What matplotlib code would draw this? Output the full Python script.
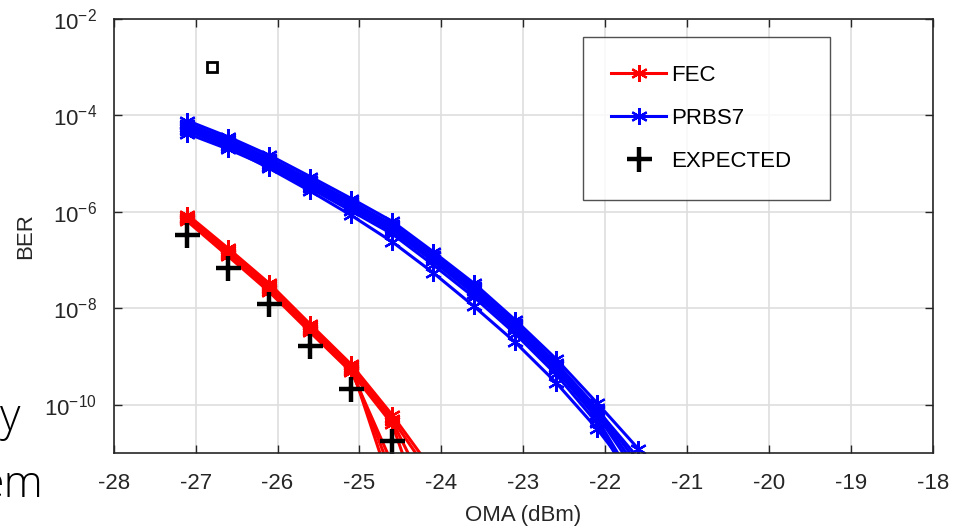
import matplotlib
matplotlib.use("Agg")
import matplotlib.pyplot as plt
from matplotlib.ticker import NullLocator, FixedLocator

plt.rcParams['font.family'] = ['Liberation Sans', 'DejaVu Sans']
plt.rcParams['mathtext.default'] = 'regular'
plt.rcParams['axes.unicode_minus'] = False

# measurement points (dBm)
oma_fec = [-27.1, -26.6, -26.1, -25.6, -25.1, -24.6, -24.1]
oma_prbs = [-27.1, -26.6, -26.1, -25.6, -25.1, -24.6, -24.1, -23.6, -23.1, -22.6, -22.1, -21.6]
oma_expected = [-27.1, -26.6, -26.1, -25.6, -25.1, -24.6]

# FEC runs
fec_a = [8.8e-7, 1.75e-7, 3.3e-8, 4.7e-9, 6.9e-10, 6.2e-11, 4.2e-12]
fec_b = [7.6e-7, 1.5e-7, 2.8e-8, 4.0e-9, 5.9e-10, 5.1e-11, 3.0e-12]
fec_c = [6.9e-7, 1.35e-7, 2.5e-8, 3.6e-9, 5.3e-10, 4.6e-11, 9.0e-13]
fec_d = [6.4e-7, 1.2e-7, 2.2e-8, 3.2e-9, 4.8e-10, 4.0e-11, 1.5e-13]
fec_e = [8.0e-7, 1.6e-7, 3.0e-8, 4.3e-9, 6.3e-10, 1.7e-12, 1e-13]
fec_f = [7.0e-7, 1.4e-7, 2.6e-8, 3.8e-9, 5.6e-10, 3.5e-12, 1e-13]
fec_g = [7.3e-7, 1.3e-7, 2.4e-8, 3.4e-9, 5.0e-10, 6.0e-12, 1e-13]

# PRBS7 runs
prbs_1 = [7.8e-5, 3.6e-5, 1.5e-5, 5.4e-6, 1.9e-6, 6.4e-7, 1.5e-7, 3.3e-8, 5.8e-9, 9.0e-10, 1.1e-10, 1.25e-11]
prbs_2 = [6.8e-5, 3.2e-5, 1.3e-5, 4.7e-6, 1.65e-6, 5.5e-7, 1.3e-7, 2.9e-8, 5.0e-9, 7.5e-10, 8.5e-11, 6.0e-12]
prbs_3 = [6.0e-5, 2.9e-5, 1.2e-5, 4.3e-6, 1.5e-6, 5.0e-7, 1.2e-7, 2.6e-8, 4.5e-9, 6.8e-10, 7.5e-11, 4.5e-12]
prbs_4 = [5.4e-5, 2.6e-5, 1.05e-5, 3.9e-6, 1.35e-6, 4.5e-7, 1.05e-7, 2.3e-8, 4.0e-9, 5.9e-10, 6.3e-11, 3.5e-12]
prbs_5 = [4.8e-5, 2.3e-5, 9.5e-6, 3.5e-6, 1.2e-6, 4.0e-7, 9.5e-8, 2.0e-8, 3.5e-9, 5.2e-10, 5.2e-11, 2.0e-12]
prbs_6 = [4.2e-5, 2.0e-5, 8.5e-6, 3.1e-6, 1.05e-6, 3.5e-7, 8.0e-8, 1.7e-8, 3.0e-9, 4.3e-10, 4.2e-11, 1.5e-12]
prbs_7 = [5.0e-5, 2.2e-5, 8.0e-6, 2.7e-6, 8.5e-7, 2.4e-7, 5.5e-8, 1.1e-8, 2.0e-9, 2.9e-10, 3.2e-11, 2.5e-12]
prbs_8 = [6.4e-5, 3.0e-5, 1.25e-5, 4.5e-6, 1.55e-6, 5.3e-7, 1.25e-7, 2.75e-8, 4.8e-9, 7.0e-10, 8.0e-11, 8e-12]

expected = [3.3e-7, 6.9e-8, 1.26e-8, 1.7e-9, 2.1e-10, 1.8e-11]

# lone marker left on the plot
square_x = [-26.8]
square_y = [1e-3]

fec_runs = [fec_a, fec_b, fec_c, fec_d, fec_e, fec_f, fec_g]
prbs_runs = [prbs_1, prbs_2, prbs_3, prbs_4, prbs_5, prbs_6, prbs_7, prbs_8]

dark = '#262626'
star = (6, 2, 0)

fig = plt.figure(figsize=(9.55, 5.27), dpi=100)
ax = fig.add_axes([0.119, 0.140, 0.858, 0.824])

for i, run in enumerate(fec_runs):
    ax.semilogy(oma_fec, run, color='red', marker=star, markersize=12, linewidth=2.2,
                markeredgewidth=1.6, label='FEC' if i == 0 else '_nolegend_')
for i, run in enumerate(prbs_runs):
    ax.semilogy(oma_prbs, run, color='blue', marker=star, markersize=12, linewidth=2.2,
                markeredgewidth=1.6, label='PRBS7' if i == 0 else '_nolegend_')
ax.semilogy(oma_expected, expected, linestyle='none', marker='+', color='black',
            markersize=18, markeredgewidth=3.2, label='EXPECTED')
ax.semilogy(square_x, square_y, linestyle='none', marker='s', markersize=7,
            markerfacecolor='none', markeredgecolor='black', markeredgewidth=2)

ax.set_xlim(-28, -18)
ax.set_ylim(1e-11, 1e-2)
ax.xaxis.set_major_locator(FixedLocator(range(-28, -17)))
ax.yaxis.set_major_locator(FixedLocator([1e-2, 1e-4, 1e-6, 1e-8, 1e-10]))
ax.yaxis.set_minor_locator(NullLocator())

ax.grid(True, color='#dedede', linewidth=1.2)
ax.set_axisbelow(True)
for s in ax.spines.values():
    s.set_color(dark)
    s.set_linewidth(1.2)
ax.tick_params(direction='in', top=True, right=True, length=6, width=1,
               color=dark, labelcolor=dark, labelsize=16)
ax.tick_params(axis='x', pad=14)
ax.tick_params(axis='y', pad=12)

ax.set_xlabel('OMA (dBm)', fontsize=16, color=dark, labelpad=8)
ax.set_ylabel('BER', fontsize=16, color=dark, labelpad=6)

leg = ax.legend(loc='upper left', bbox_to_anchor=(0.573, 0.578, 0.301, 0.381), mode='expand',
                fontsize=16, handlelength=2.5, handletextpad=0.2, borderpad=1.25,
                labelspacing=1.0, fancybox=False, frameon=True, borderaxespad=0)
leg.get_frame().set_edgecolor(dark)
leg.get_frame().set_linewidth(1.0)

# slide text cut off at the left edge
fig.text(0.021, 0.184, 'y', fontsize=32, family='Open Sans', weight='light', ha='right', va='baseline')
fig.text(0.045, 0.057, 'em', fontsize=32, family='Open Sans', weight='light', ha='right', va='baseline')

fig.savefig('out.png', dpi=100)
